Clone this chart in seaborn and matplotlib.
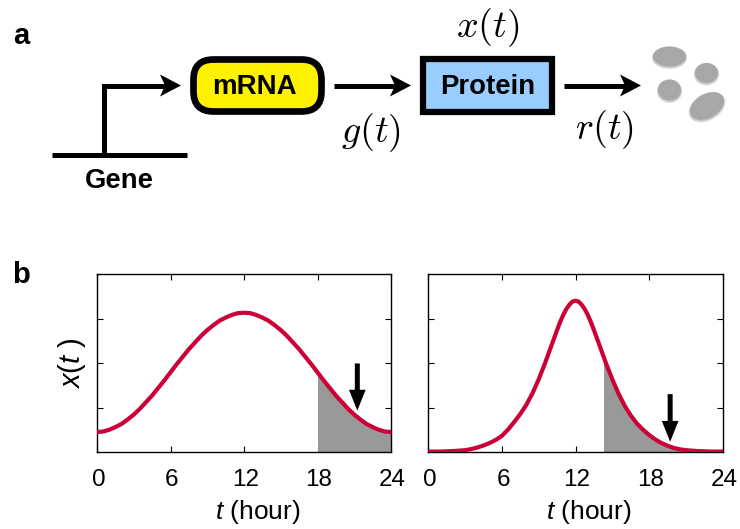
import numpy as np
import pandas as pd
import matplotlib
matplotlib.use("Agg")
import matplotlib.pyplot as plt
from matplotlib.patches import FancyBboxPatch, Rectangle, Ellipse, Polygon
from matplotlib.transforms import ScaledTranslation
import seaborn as sns

hours_left = [i * 0.5 for i in range(49)]
curve_left = [.45, .46, .50, .56, .63, .73, .84, .97, 1.12, 1.27, 1.44, 1.61, 1.79,
              1.97, 2.14, 2.31, 2.46, 2.61, 2.74, 2.85, 2.95, 3.02, 3.08, 3.12, 3.13,
              3.12, 3.08, 3.02, 2.95, 2.85, 2.74, 2.61, 2.46, 2.31, 2.14, 1.97, 1.79,
              1.61, 1.44, 1.27, 1.12, .97, .84, .73, .63, .56, .50, .46, .45]
hours_right = [0, .5, 1, 1.5, 2, 2.5, 3, 3.5, 4, 4.5, 5, 5.5, 6, 6.5, 7, 7.5, 8, 8.5, 9, 9.5, 10,
               10.5, 10.75, 11, 11.25, 11.5, 11.75, 12, 12.25, 12.5, 12.75, 13, 13.25, 13.5,
               14, 14.5, 15, 15.5, 16, 16.5, 17, 17.5, 18, 18.5, 19, 19.5, 20, 20.5, 21, 21.5,
               22, 22.5, 23, 23.5, 24]
curve_right = [.01, .01, .01, .015, .02, .03, .04, .065, .10, .145, .20, .27, .36, .50, .67,
               .85, 1.06, 1.32, 1.63, 1.98, 2.36, 2.74, 2.92, 3.08, 3.21, 3.31, 3.38, 3.40,
               3.38, 3.31, 3.21, 3.08, 2.92, 2.74, 2.36, 1.98, 1.63, 1.31, 1.04, .82, .64,
               .50, .38, .28, .20, .14, .09, .06, .04, .03, .02, .015, .01, .01, .01]
shade_start = [18.0, 14.3]
arrow_t = [21.25, 19.7]
arrow_top = [1.99, 1.30]
arrow_tip = [0.93, 0.23]
x_ticks = [0, 6, 12, 18, 24]
y_ticks = [1, 2, 3]

sns.set_theme(style="ticks")
plt.rcParams.update({
    "font.family": ["Liberation Sans", "DejaVu Sans"],
    "mathtext.fontset": "custom",
    "mathtext.it": "Liberation Sans:italic",
    "mathtext.rm": "Liberation Sans",
    "axes.linewidth": 1.0,
    "text.color": "black",
    "axes.labelcolor": "black",
    "xtick.color": "black",
    "ytick.color": "black",
})

W, H = 740, 529
fig = plt.figure(figsize=(W / 100, H / 100), dpi=100)
bg = fig.add_axes([0, 0, 1, 1])
bg.set_xlim(0, W)
bg.set_ylim(H, 0)
bg.axis("off")

LINE = 3.6
BLACK = "#000000"


def flow_arrow(x0, x1, y):
    """Horizontal schematic arrow with a notched head."""
    bg.plot([x0, x1 - 12], [y, y], color=BLACK, lw=LINE, solid_capstyle="butt")
    bg.add_patch(Polygon([(x1, y), (x1 - 21, y - 11), (x1 - 16, y), (x1 - 21, y + 11)],
                         closed=True, fc=BLACK, ec="none"))


def down_arrow(ax, x, y0, y1):
    ax.annotate("", xy=(x, y1), xytext=(x, y0), annotation_clip=False,
                arrowprops=dict(arrowstyle="simple,head_length=1.5,head_width=1.2,tail_width=0.36",
                                mutation_scale=10, color=BLACK, lw=0, shrinkA=0, shrinkB=0))


# schematic
bg.plot([52, 187], [154.5, 154.5], color=BLACK, lw=LINE, solid_capstyle="butt")
bg.plot([104, 104, 170], [154.5, 85.5, 85.5], color=BLACK, lw=LINE,
        solid_joinstyle="miter", solid_capstyle="butt")
flow_arrow(165, 181, 85.5)
bg.add_patch(FancyBboxPatch((193.5 + 20, 59.5 + 20), 128 - 40, 52 - 40,
                            boxstyle="round,pad=20,rounding_size=20",
                            fc="#FFF200", ec=BLACK, lw=4.8))
bg.text(254.5, 87, "mRNA", ha="center", va="center", fontsize=20, fontweight="bold")
bg.add_patch(Rectangle((423, 59), 129, 53, fc="#99CCFF", ec=BLACK, lw=4.5))
bg.text(488, 87.5, "Protein", ha="center", va="center", fontsize=19.8, fontweight="bold")
bg.text(119, 181, "Gene", ha="center", va="center", fontsize=19.8, fontweight="bold")
flow_arrow(334, 411, 85.5)
flow_arrow(564, 641, 85.5)
bg.text(371, 133, "$g(t)$", ha="center", va="center", fontsize=27.5, math_fontfamily="cm")
bg.text(604, 130, "$r(t)$", ha="center", va="center", fontsize=27.5, math_fontfamily="cm")
bg.text(488, 28, "$x(t)$", ha="center", va="center", fontsize=27.5, math_fontfamily="cm")
bg.text(21, 36.5, "a", ha="center", va="center", fontsize=21, fontweight="bold")
bg.text(21, 275, "b", ha="center", va="center", fontsize=21, fontweight="bold")

# degraded protein blobs
blobs = [(669.5, 56.5, 33, 20, 0), (706.5, 73, 23, 20, 0), (669.5, 90, 23, 21, 0), (707, 106, 37, 24, -30)]
for cx, cy, w, h, ang in blobs:
    for grow, alpha in [(3, .10), (2, .15), (1, .25)]:
        bg.add_patch(Ellipse((cx, cy + 1.2), w + grow, h + grow, angle=ang, fc="#888888",
                             ec="none", alpha=alpha))
    bg.add_patch(Ellipse((cx, cy), w, h, angle=ang, fc="#a5a8a6", ec="none"))

# panels
boxes = [(97, 294), (428, 295)]
data = [(hours_left, curve_left), (hours_right, curve_right)]
shift = ScaledTranslation(1.5 / 72 * 0.72, 0, fig.dpi_scale_trans)
for i, ((px, pw), (t, y)) in enumerate(zip(boxes, data)):
    ax = fig.add_axes([px / W, 1 - 452 / H, pw / W, 178 / H])
    df = pd.DataFrame({"t": t, "x": y})
    patch = ax.fill_between(df["t"], 0, df["x"], color="#999999", lw=0, zorder=1)
    patch.set_clip_path(Rectangle((shade_start[i], 0), 24 - shade_start[i], 4, transform=ax.transData))
    sns.lineplot(data=df, x="t", y="x", ax=ax, color="#CC0036", lw=3.0, zorder=3,
                 solid_joinstyle="round")
    ax.set_xlim(0, 24)
    ax.set_ylim(0, 4)
    ax.set_xticks(x_ticks)
    ax.set_yticks(y_ticks)
    ax.set_yticklabels([])
    ax.tick_params(axis="both", direction="in", top=True, right=True, length=4.3, width=0.8)
    ax.tick_params(axis="x", labelsize=17.5, pad=12)
    for lab in ax.get_xticklabels():
        lab.set_transform(lab.get_transform() + shift)
    for s in ax.spines.values():
        s.set_visible(True)
        s.set_color(BLACK)
    ax.set_xlabel("$t$ (hour)", fontsize=19)
    ax.xaxis.set_label_coords(161 / pw, -46 / 178)
    if i == 0:
        ax.set_ylabel("$x$($t$ )", fontsize=21)
        ax.yaxis.set_label_coords(-9 / pw, 0.5)
    else:
        ax.set_ylabel("")
    down_arrow(ax, arrow_t[i], arrow_top[i], arrow_tip[i])

fig.savefig("out.png", dpi=100, facecolor="white")
